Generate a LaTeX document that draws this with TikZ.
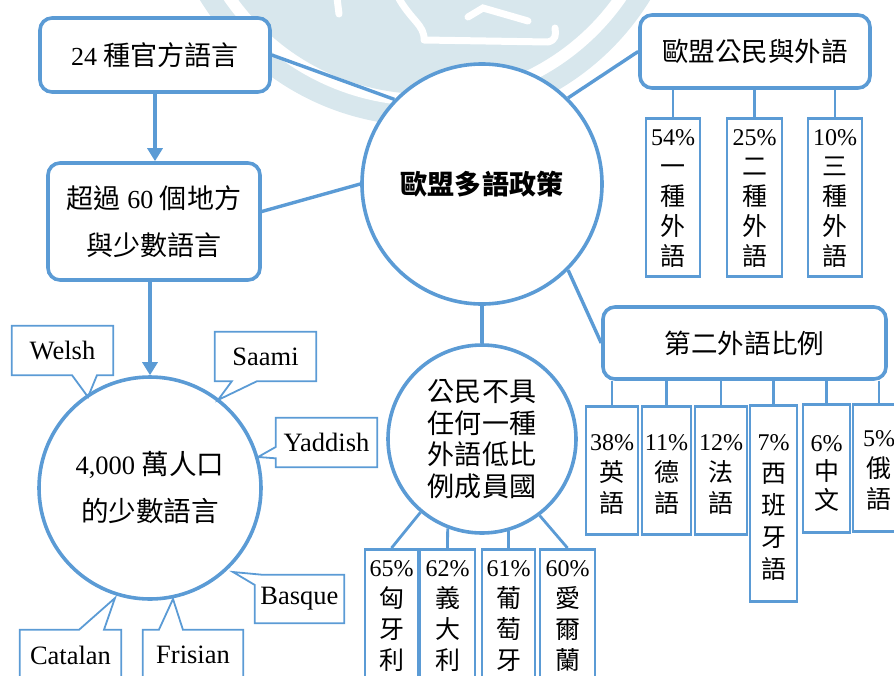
\documentclass[tikz,border=0pt]{standalone}
\usepackage{fontspec}
\setmainfont{Liberation Serif}
\newfontfamily\cjk[Scale=1.04]{Noto Sans CJK TC}
\newcommand\ZH[1]{{\cjk #1}}
\usetikzlibrary{arrows.meta,calc}
\definecolor{eublue}{RGB}{91,155,213}
\definecolor{wm}{RGB}{216,231,237}
\begin{document}
\begin{tikzpicture}[x=1pt,y=-1pt,
  link/.style={draw=eublue,line width=3.4pt},
  thin link/.style={draw=eublue,line width=2.8pt},
  rbox/.style={draw=eublue,line width=3.6pt,rounded corners=12pt,fill=white,align=center,inner sep=0pt},
  ring/.style={circle,draw=eublue,line width=3.6pt,fill=white,align=center,inner sep=0pt},
  pbox/.style={draw=eublue,line width=2.6pt,fill=white,inner sep=0pt,anchor=north},
  ptext/.style={anchor=north,align=center,inner sep=0pt,font=\fontsize{24}{#1}\selectfont},
  ptext/.default=31pt,
  callout/.style={draw=eublue,line width=1.8pt,line join=miter},
  cbox/.style={inner sep=0pt},
  ctext/.style={inner sep=0pt,font=\fontsize{26.5}{30}\selectfont},
  arrowtip/.style={-{Triangle[length=13pt,width=15pt]}}
]
\useasboundingbox (0,0) rectangle (894,675);
\clip (0,0) rectangle (894,675);
% watermark
\fill[wm] (425,-138) circle (264);
\fill[white] (425,-138) circle (244);
\fill[wm] (425,-138) circle (232);
\draw[white,line width=7pt,line cap=round] (337,-2) -- (339,14);
\draw[white,line width=7pt,line cap=round,line join=round] (397,-5) .. controls (410,20) and (425,25) .. (424,40) -- (548,42) .. controls (556,40) and (556,35) .. (555,28);
\draw[white,line width=7pt,line cap=round] (468,17) -- (483,8) -- (528,21);

% main nodes
\node[rbox,minimum width=230pt,minimum height=74pt,font=\fontsize{26}{30}\selectfont] (b1) at (155,55) {24 \ZH{種官方語言}};
\node[rbox,minimum width=212pt,minimum height=117pt,font=\fontsize{26}{47}\selectfont] (b2) at (154,221.5) {\ZH{超過} 60 \ZH{個地方}\\\ZH{與少數語言}};
\node[ring,minimum size=240pt,font=\fontsize{26}{30}\selectfont] (bc) at (482,184) {\ZH{\bfseries 歐盟多語政策}};
\node[ring,minimum size=222pt,font=\fontsize{26.5}{47}\selectfont] (sc) at (150,488) {4,000 \ZH{萬人口}\\\ZH{的少數語言}};
\node[ring,minimum size=188pt,font=\fontsize{26}{31.5}\selectfont] (mc) at (482,439) {\ZH{公民不具}\\\ZH{任何一種}\\\ZH{外語低比}\\\ZH{例成員國}};
\node[rbox,minimum width=230pt,minimum height=73pt,font=\fontsize{25.5}{30}\selectfont] (tr) at (755,51.5) {\ZH{歐盟公民與外語}};
\node[rbox,minimum width=283pt,minimum height=72pt,font=\fontsize{25.5}{30}\selectfont] (s2) at (744.5,343) {\ZH{第二外語比例}};

% links to center
\draw[link] (b1.east) -- (bc.136);
\draw[link] ([yshift=10pt]b2.east) -- (bc.180);
\draw[link] (bc.45) -- (tr.west);
\draw[link] (bc.-45) -- (s2.west);
\draw[link] (bc.south) -- (mc.north);
\draw[link,arrowtip] (b1.south) -- (b1.south |- b2.north);
\draw[link,arrowtip] (sc.north |- b2.south) -- (sc.north);

% EU citizens and foreign languages
\node[pbox,minimum width=54pt,minimum height=158pt] (t1) at (673,117) {};
\node[pbox,minimum width=55pt,minimum height=158pt] (t2) at (754.5,117) {};
\node[pbox,minimum width=54pt,minimum height=158pt] (t3) at (835,117) {};
\node[ptext=30pt] (t1t) at ([yshift=-12pt]t1.north) {54\%\\\ZH{一}\\\ZH{種}\\\ZH{外}\\\ZH{語}};
\node[ptext=30pt] (t2t) at ([yshift=-12pt]t2.north) {25\%\\\ZH{二}\\\ZH{種}\\\ZH{外}\\\ZH{語}};
\node[ptext=30pt] (t3t) at ([yshift=-12pt]t3.north) {10\%\\\ZH{三}\\\ZH{種}\\\ZH{外}\\\ZH{語}};
\foreach \n in {t1,t2,t3} \draw[thin link] (\n.north |- tr.south) -- (\n.north);

% second foreign language share
\node[pbox,minimum width=52pt,minimum height=128pt] (l1) at (612,405) {};
\node[pbox,minimum width=49pt,minimum height=128pt] (l2) at (666.5,405) {};
\node[pbox,minimum width=52pt,minimum height=128pt] (l3) at (721,405) {};
\node[pbox,minimum width=47pt,minimum height=196pt] (l4) at (773.5,404) {};
\node[pbox,minimum width=47pt,minimum height=128pt] (l5) at (826.5,403) {};
\node[pbox,minimum width=52pt,minimum height=127pt] (l6) at (879,403) {};
\node[ptext] (l1t) at ([yshift=-29pt]l1.north) {38\%\\\ZH{英}\\\ZH{語}};
\node[ptext] (l2t) at ([yshift=-29pt]l2.north) {11\%\\\ZH{德}\\\ZH{語}};
\node[ptext] (l3t) at ([yshift=-29pt]l3.north) {12\%\\\ZH{法}\\\ZH{語}};
\node[ptext=32pt] (l4t) at ([yshift=-30pt]l4.north) {7\%\\\ZH{西}\\\ZH{班}\\\ZH{牙}\\\ZH{語}};
\node[ptext=29pt] (l5t) at ([yshift=-32pt]l5.north) {6\%\\\ZH{中}\\\ZH{文}};
\node[ptext] (l6t) at ([yshift=-27pt]l6.north) {5\%\\\ZH{俄}\\\ZH{語}};
\foreach \n in {l1,l2,l3,l4,l5,l6} \draw[thin link] (\n.north |- s2.south) -- (\n.north);

% member states with low share
\node[pbox,minimum width=53pt,minimum height=150pt] (m1) at (391.5,548) {};
\node[pbox,minimum width=55pt,minimum height=150pt] (m2) at (447.5,548) {};
\node[pbox,minimum width=53pt,minimum height=150pt] (m3) at (508.5,548) {};
\node[pbox,minimum width=55pt,minimum height=150pt] (m4) at (567.5,548) {};
\node[ptext] (m1t) at ([yshift=-12pt]m1.north) {65\%\\\ZH{匈}\\\ZH{牙}\\\ZH{利}};
\node[ptext] (m2t) at ([yshift=-12pt]m2.north) {62\%\\\ZH{義}\\\ZH{大}\\\ZH{利}};
\node[ptext] (m3t) at ([yshift=-12pt]m3.north) {61\%\\\ZH{葡}\\\ZH{萄}\\\ZH{牙}};
\node[ptext] (m4t) at ([yshift=-12pt]m4.north) {60\%\\\ZH{愛}\\\ZH{爾}\\\ZH{蘭}};
\draw[thin link] (mc.-130) -- (m1.north);
\draw[thin link] (mc.-111) -- (m2.north);
\draw[thin link] (mc.-74) -- (m3.north);
\draw[thin link] (mc.-53) -- (m4.north);

% callouts around minority languages
\coordinate (tipW) at (88,397);
\coordinate (tipS) at (218,400);
\coordinate (tipY) at (258,457);
\coordinate (tipB) at (233,572);
\coordinate (tipC) at (115,598);
\coordinate (tipF) at (173,599);
\node[cbox,minimum width=101pt,minimum height=49pt] (welsh) at (62.5,350.5) {};
\node[ctext] (welshT) at (welsh) {Welsh};
\draw[callout] (welsh.north west) -- (welsh.north east) -- (welsh.south east) -- ($(welsh.south west)!0.84!(welsh.south east)$) -- (tipW) -- ($(welsh.south west)!0.594!(welsh.south east)$) -- (welsh.south west) -- cycle;
\node[cbox,minimum width=101pt,minimum height=49pt] (saami) at (265.5,356.5) {};
\node[ctext] (saamiT) at (saami) {Saami};
\draw[callout] (saami.north west) -- (saami.north east) -- (saami.south east) -- ($(saami.south west)!0.416!(saami.south east)$) -- (tipS) -- ($(saami.south west)!0.168!(saami.south east)$) -- (saami.south west) -- cycle;
\node[cbox,minimum width=101pt,minimum height=49pt] (yadd) at (326.5,442.5) {};
\node[ctext] (yaddT) at (yadd) {Yaddish};
\draw[callout] (yadd.north west) -- (yadd.north east) -- (yadd.south east) -- (yadd.south west) -- ($(yadd.north west)!0.82!(yadd.south west)$) -- (tipY) -- ($(yadd.north west)!0.59!(yadd.south west)$) -- cycle;
\node[cbox,minimum width=89pt,minimum height=48pt] (basq) at (299.5,599) {};
\node[ctext] (basqT) at (basq) {Basque};
\draw[callout] ($(basq.north west)!0.09!(basq.north east)$) -- (basq.north east) -- (basq.south east) -- (basq.south west) -- ($(basq.north west)!0.21!(basq.south west)$) -- (tipB) -- cycle;
\node[cbox,minimum width=101pt,minimum height=50pt] (catal) at (70.5,655) {};
\node[ctext] (catalT) at (catal) {Catalan};
\draw[callout] (catal.north west) -- ($(catal.north west)!0.584!(catal.north east)$) -- (tipC) -- ($(catal.north west)!0.83!(catal.north east)$) -- (catal.north east) -- (catal.south east) -- (catal.south west) -- cycle;
\node[cbox,minimum width=100pt,minimum height=50pt] (fris) at (193,655) {};
\node[ctext] (frisT) at (fris) {Frisian};
\draw[callout] (fris.north west) -- ($(fris.north west)!0.16!(fris.north east)$) -- (tipF) -- ($(fris.north west)!0.4!(fris.north east)$) -- (fris.north east) -- (fris.south east) -- (fris.south west) -- cycle;
\end{tikzpicture}
\end{document}
